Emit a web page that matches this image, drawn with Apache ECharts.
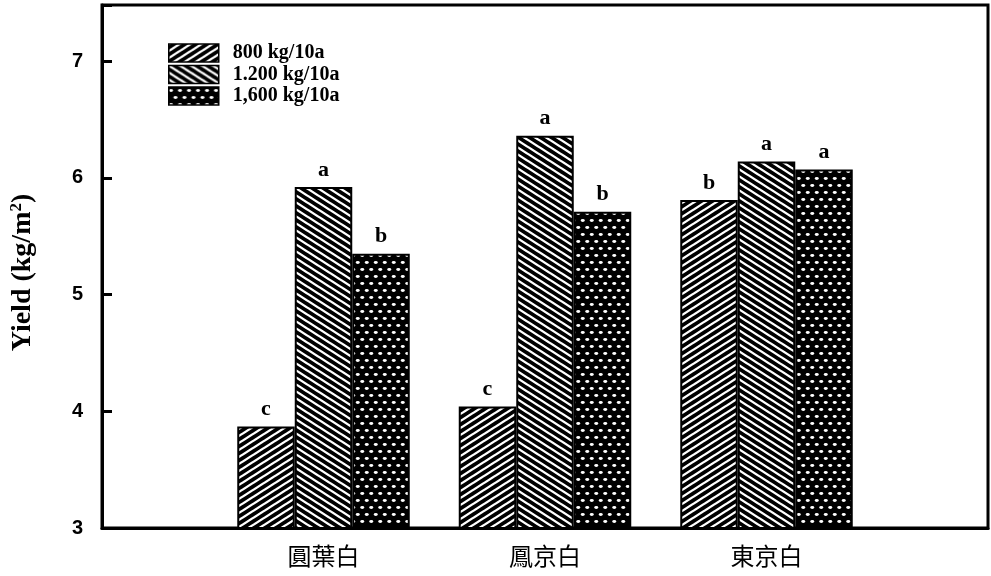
<!DOCTYPE html>
<html>
<head>
<meta charset="utf-8">
<style>
  html, body { margin: 0; padding: 0; background: #fff; }
  #chart { width: 991px; height: 576px; }
</style>
<script src="https://cdn.jsdelivr.net/npm/echarts@6/dist/echarts.min.js"></script>
</head>
<body>
<div id="chart"></div>
<script>
// Cultivars and yields (kg/m2) per fertilizer rate
const cultivars = ['圓葉白', '鳳京白', '東京白'];
const rateNames = ['800 kg/10a', '1.200 kg/10a', '1,600 kg/10a'];
const yield800 = [3.87, 4.04, 5.81];
const yield1200 = [5.92, 6.36, 6.14];
const yield1600 = [5.35, 5.71, 6.07];
// Mean-separation letters
const letters800 = ['c', 'c', 'b'];
const letters1200 = ['a', 'a', 'a'];
const letters1600 = ['b', 'b', 'a'];
const yTicks = [3, 4, 5, 6, 7];

// Category axis gets an empty slot at each end so the cultivars sit on ticks 1..3
const categories = [''].concat(cultivars, ['']);
const pad = arr => [null].concat(arr, [null]);

// Hatch tiles
function stripeTile(dir) {
  const w = 11, h = 7;
  const c = document.createElement('canvas');
  c.width = w; c.height = h;
  const g = c.getContext('2d');
  g.fillStyle = '#000';
  g.fillRect(0, 0, w, h);
  g.strokeStyle = '#fff';
  g.lineWidth = 2.3;
  for (const dy of [-2 * h, -h, 0, h, 2 * h]) {
    g.beginPath();
    if (dir > 0) { g.moveTo(-w, 2 * h + dy); g.lineTo(2 * w, -h + dy); }
    else { g.moveTo(-w, -h + dy); g.lineTo(2 * w, 2 * h + dy); }
    g.stroke();
  }
  return c;
}
function dotTile() {
  const w = 9, h = 14;
  const c = document.createElement('canvas');
  c.width = w; c.height = h;
  const g = c.getContext('2d');
  g.fillStyle = '#000';
  g.fillRect(0, 0, w, h);
  g.fillStyle = '#fff';
  for (const [x, y] of [[2.25, 3.5], [6.75, 10.5]]) {
    g.beginPath();
    g.ellipse(x, y, 2.0, 1.4, 0, 0, Math.PI * 2);
    g.fill();
  }
  return c;
}
const fills = [
  { image: stripeTile(1), repeat: 'repeat' },
  { image: stripeTile(-1), repeat: 'repeat' },
  { image: dotTile(), repeat: 'repeat' }
];

const serif = "'Liberation Serif', 'DejaVu Serif', serif";
const letterSets = [letters800, letters1200, letters1600];
const valueSets = [yield800, yield1200, yield1600];

const chart = echarts.init(document.getElementById('chart'), null, { renderer: 'canvas' });
chart.setOption({
  animation: false,
  backgroundColor: '#fff',
  grid: {
    left: 102, right: 2, top: 5, bottom: 48,
    show: true, borderColor: '#000', borderWidth: 3, backgroundColor: 'transparent'
  },
  legend: {
    orient: 'vertical',
    left: 163, top: 38,
    itemWidth: 50, itemHeight: 18, itemGap: 1.5,
    selectedMode: false,
    icon: 'rect',
    itemStyle: { borderColor: '#000', borderWidth: 1.5 },
    textStyle: {
      fontFamily: serif, fontWeight: 'bold', fontSize: 20, color: '#000',
      lineHeight: 18, padding: [0, 0, 0, 9]
    },
    data: rateNames
  },
  xAxis: {
    type: 'category',
    data: categories,
    boundaryGap: false,
    axisLine: { lineStyle: { color: '#000', width: 3 } },
    axisTick: { show: false },
    axisLabel: {
      interval: 0, margin: 16, color: '#000', fontSize: 24,
      fontFamily: "'Noto Sans CJK TC', 'Noto Sans CJK SC', sans-serif"
    },
    splitLine: { show: false }
  },
  yAxis: {
    type: 'value',
    min: 3, max: 7.48, interval: 1,
    name: 'Yield (kg/m{s|2})',
    nameLocation: 'middle',
    nameGap: 65,
    nameRotate: 90,
    nameTextStyle: {
      fontFamily: serif, fontWeight: 'bold', fontSize: 28, color: '#000',
      padding: [0, 12, 0, 0],
      rich: {
        s: { fontFamily: serif, fontWeight: 'bold', fontSize: 17, color: '#000', verticalAlign: 'top', padding: [0, 0, 12, 0] }
      }
    },
    axisLine: { show: true, lineStyle: { color: '#000', width: 3 } },
    axisTick: { show: true, inside: true, length: 10, lineStyle: { color: '#000', width: 3 } },
    axisLabel: {
      margin: 19, color: '#000', fontSize: 20, fontWeight: 'bold',
      fontFamily: "'Liberation Sans', Arial, sans-serif",
      formatter: v => (yTicks.indexOf(v) >= 0 ? String(v) : '')
    },
    splitLine: { show: false }
  },
  series: rateNames.map((name, i) => ({
    name: name,
    type: 'bar',
    data: pad(valueSets[i]),
    barWidth: 57.5,
    barGap: '0%',
    itemStyle: { color: fills[i], borderColor: '#000', borderWidth: 2 },
    label: {
      show: true, position: 'top', distance: 6,
      fontFamily: serif, fontWeight: 'bold', fontSize: 22, color: '#000',
      formatter: p => letterSets[i][p.dataIndex - 1]
    }
  }))
});
</script>
</body>
</html>
